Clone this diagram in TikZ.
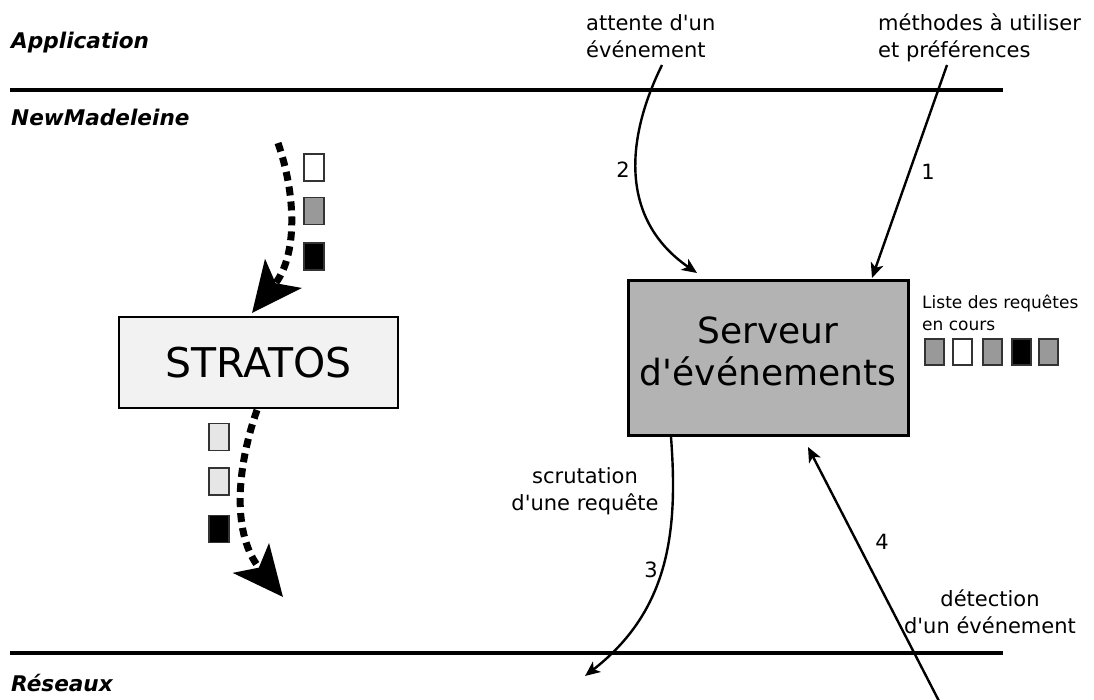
\documentclass[tikz,border=0pt]{standalone}
\usepackage{fontspec}
\setmainfont{DejaVu Sans}
\usetikzlibrary{arrows.meta}
\definecolor{boxlight}{HTML}{F2F2F2}
\definecolor{boxdark}{HTML}{B3B3B3}
\definecolor{sqgray}{HTML}{999999}
\definecolor{sqlight}{HTML}{E6E6E6}
\newcommand{\sq}{\textquotesingle}
\tikzset{
  layerline/.style={line width=4pt},
  layerlabel/.style={anchor=base west,inner sep=0pt,font=\fontsize{21.6}{26}\selectfont\bfseries\itshape},
  lbl/.style={inner sep=0pt,font=\fontsize{21}{27}\selectfont},
  smalllbl/.style={inner sep=0pt,font=\fontsize{17}{22}\selectfont},
  numlbl/.style={inner sep=0pt,font=\fontsize{21}{26}\selectfont},
  flowarrow/.style={line width=2.4pt,-{Stealth[length=15pt,width=13pt,inset=4pt]}},
  bigflow/.style={line width=7pt,dash pattern=on 9pt off 6pt,-{Stealth[length=50pt,width=46pt,inset=12pt]}},
  reqsq/.style={draw=black!80,line width=1.2pt,minimum width=20pt,minimum height=27pt,inner sep=0pt},
  listsq/.style={draw=black!80,line width=1.2pt,minimum width=19pt,minimum height=26pt,inner sep=0pt},
}
\begin{document}
\begin{tikzpicture}[x=1pt,y=-1pt]
\useasboundingbox (0,0) rectangle (1094,699);

% layer lines
\coordinate (tl0) at (10,90);
\coordinate (tl1) at (1003,90);
\coordinate (bl0) at (10,653);
\coordinate (bl1) at (1003,653);
\draw[layerline] (tl0) -- (tl1);
\draw[layerline] (bl0) -- (bl1);

% layer labels
\node[layerlabel] (app) at (11,48) {Application};
\node[layerlabel] (nmad) at (11,125) {NewMadeleine};
\node[layerlabel] (res) at (11,691) {Réseaux};

% boxes
\node[draw,line width=2.5pt,fill=boxlight,minimum width=279pt,minimum height=91pt,inner sep=0pt,
      font=\fontsize{41}{48}\selectfont] (strat) at (258.5,362.5) {STRATOS};
\node[draw,line width=3pt,fill=boxdark,minimum width=280pt,minimum height=155pt,inner sep=0pt] (srv) at (768,357.5) {};
\node[inner sep=0pt,align=center,font=\fontsize{36}{42}\selectfont] (srvtxt) at (768,351) {Serveur\\d\sq événements};

% request squares (top)
\node[reqsq,fill=white] (q1) at (314,167.5) {};
\node[reqsq,fill=sqgray] (q2) at (314,211) {};
\node[reqsq,fill=black] (q3) at (314,256.5) {};
% request squares (bottom)
\node[reqsq,fill=sqlight] (r1) at (219,437) {};
\node[reqsq,fill=sqlight] (r2) at (219,481.5) {};
\node[reqsq,fill=black] (r3) at (219,529) {};

% big dashed flows
\coordinate (d1s) at (278,143);
\coordinate (d1e) at (252,313);
\coordinate (d2s) at (257,410);
\coordinate (d2e) at (283,597);
\draw[bigflow] (d1s) .. controls (296,195) and (298,255) .. (d1e);
\draw[bigflow] (d2s) .. controls (236,470) and (232,535) .. (d2e);

% list of pending requests
\node[smalllbl,anchor=north west,align=left] (liste) at (922,295) {Liste des requêtes\\en cours};
\node[listsq,fill=sqgray] (l1) at (934.5,352) {};
\node[listsq,fill=white] (l2) at (962.5,352) {};
\node[listsq,fill=sqgray] (l3) at (992.5,352) {};
\node[listsq,fill=black] (l4) at (1021.5,352) {};
\node[listsq,fill=sqgray] (l5) at (1048.5,352) {};

% text labels
\node[lbl,anchor=north west,align=left] (att) at (586,14) {attente d\sq un\\événement};
\node[lbl,anchor=north west,align=left] (meth) at (878,14) {méthodes à utiliser\\et préférences};
\node[lbl,anchor=north,align=center] (scrut) at (585,467) {scrutation\\d\sq une requête};
\node[lbl,anchor=north,align=center] (detect) at (990,589) {détection\\d\sq un événement};

% numbers
\node[numlbl] (n1) at (928,172) {1};
\node[numlbl] (n2) at (623,170) {2};
\node[numlbl] (n3) at (651,570) {3};
\node[numlbl] (n4) at (882,542) {4};

% connector end points
\coordinate (a2s) at (662,65);
\coordinate (a2e) at (697,273);
\coordinate (a1s) at (947,65);
\coordinate (a1e) at (872,278);
\coordinate (a3s) at (671,437);
\coordinate (a3e) at (585,676);
\coordinate (a4s) at (940,703);
\coordinate (a4e) at (808,447);

\draw[flowarrow] (a2s) .. controls (625,140) and (620,220) .. (a2e);
\draw[flowarrow] (a1s) -- (a1e);
\draw[flowarrow] (a3s) .. controls (678,530) and (670,610) .. (a3e);
\draw[flowarrow] (a4s) -- (a4e);
\end{tikzpicture}
\end{document}
